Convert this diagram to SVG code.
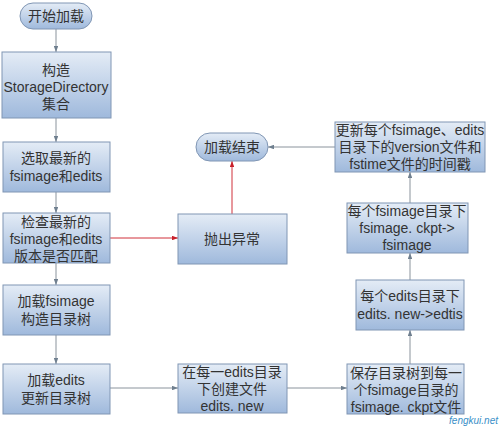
<svg xmlns="http://www.w3.org/2000/svg" width="500" height="427" viewBox="0 0 500 427">
<defs>
<linearGradient id="g" x1="0" y1="0" x2="0" y2="1">
<stop offset="0" stop-color="#e4ecf6"/>
<stop offset="1" stop-color="#9fb9dc"/>
</linearGradient>
<marker id="ag" viewBox="0 0 8 6" refX="8" refY="3" markerWidth="6" markerHeight="4.5" orient="auto" markerUnits="userSpaceOnUse">
<path d="M0,0 L8,3 L0,6 Z" fill="#6f7f8f"/>
</marker>
<marker id="ar" viewBox="0 0 8 6" refX="8" refY="3" markerWidth="6" markerHeight="4.5" orient="auto" markerUnits="userSpaceOnUse">
<path d="M0,0 L8,3 L0,6 Z" fill="#c8202a"/>
</marker>
</defs>
<style>
.box{fill:url(#g);stroke:#8096b4;stroke-width:1}
.t{font-family:"Liberation Sans","Noto Sans CJK SC",sans-serif;font-size:14px;fill:#333;text-anchor:middle}
.c{fill:none;stroke:#8a939c;stroke-width:1}
.r{fill:none;stroke:#d0303a;stroke-width:1}
</style>
<g id="connectors">
<path class="c" d="M56,29 V52" marker-end="url(#ag)"/>
<path class="c" d="M56,118 V142" marker-end="url(#ag)"/>
<path class="c" d="M56,192 V213" marker-end="url(#ag)"/>
<path class="c" d="M56,263 V285" marker-end="url(#ag)"/>
<path class="c" d="M56,335 V364" marker-end="url(#ag)"/>
<path class="r" d="M110,238 H178" marker-end="url(#ar)"/>
<path class="r" d="M232,214 V161" marker-end="url(#ar)"/>
<path class="c" d="M110,388 H178" marker-end="url(#ag)"/>
<path class="c" d="M287,388 H347" marker-end="url(#ag)"/>
<path class="c" d="M410,364 V330" marker-end="url(#ag)"/>
<path class="c" d="M410,280 V253" marker-end="url(#ag)"/>
<path class="c" d="M410,203 V172" marker-end="url(#ag)"/>
<path class="c" d="M335,147 H268" marker-end="url(#ag)"/>
</g>
<g id="start">
<rect class="box" x="20" y="3" width="72" height="26" rx="13"/>
<text class="t" x="56" y="21">开始加载</text>
</g>
<g id="n1">
<rect class="box" x="2" y="52" width="109" height="66"/>
<text class="t" x="56" y="75">构造</text>
<text class="t" x="56" y="92">StorageDirectory</text>
<text class="t" x="56" y="109">集合</text>
</g>
<g id="n2">
<rect class="box" x="3" y="142" width="107" height="50"/>
<text class="t" x="56" y="163">选取最新的</text>
<text class="t" x="56" y="181">fsimage和edits</text>
</g>
<g id="n3">
<rect class="box" x="3" y="213" width="107" height="50"/>
<text class="t" x="56" y="227">检查最新的</text>
<text class="t" x="56" y="244">fsimage和edits</text>
<text class="t" x="56" y="261">版本是否匹配</text>
</g>
<g id="n4">
<rect class="box" x="3" y="285" width="107" height="50"/>
<text class="t" x="56" y="306">加载fsimage</text>
<text class="t" x="56" y="324">构造目录树</text>
</g>
<g id="n5">
<rect class="box" x="3" y="364" width="107" height="50"/>
<text class="t" x="56" y="385">加载edits</text>
<text class="t" x="56" y="403">更新目录树</text>
</g>
<g id="exc">
<rect class="box" x="178" y="214" width="109" height="50"/>
<text class="t" x="232" y="244">抛出异常</text>
</g>
<g id="end">
<rect class="box" x="196" y="133" width="72" height="28" rx="14"/>
<text class="t" x="232" y="152">加载结束</text>
</g>
<g id="n6">
<rect class="box" x="178" y="364" width="109" height="49"/>
<text class="t" x="232" y="377">在每一edits目录</text>
<text class="t" x="232" y="394">下创建文件</text>
<text class="t" x="232" y="411">edits. new</text>
</g>
<g id="n7">
<rect class="box" x="347" y="364" width="117" height="50"/>
<text class="t" x="406" y="378">保存目录树到每一</text>
<text class="t" x="406" y="395">个fsimage目录的</text>
<text class="t" x="406" y="412">fsimage. ckpt文件</text>
</g>
<g id="n8">
<rect class="box" x="356" y="280" width="108" height="50"/>
<text class="t" x="410" y="301">每个edits目录下</text>
<text class="t" x="410" y="319">edits. new-&gt;edtis</text>
</g>
<g id="n9">
<rect class="box" x="347" y="203" width="121" height="50"/>
<text class="t" x="407" y="216">每个fsimage目录下</text>
<text class="t" x="407" y="233">fsimage. ckpt-&gt;</text>
<text class="t" x="407" y="250">fsimage</text>
</g>
<g id="n10">
<rect class="box" x="335" y="122" width="150" height="50"/>
<text class="t" x="410" y="135">更新每个fsimage、edits</text>
<text class="t" x="410" y="152">目录下的version文件和</text>
<text class="t" x="410" y="169">fstime文件的时间戳</text>
</g>
<text x="498" y="424" style="font-family:'Liberation Sans',sans-serif;font-size:10px;font-style:italic;fill:#3a8fc8;text-anchor:end">fengkui.net</text>
</svg>
